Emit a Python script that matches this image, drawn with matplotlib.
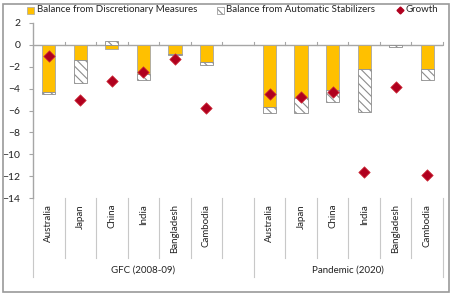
import numpy as np
import matplotlib.pyplot as plt
from matplotlib.patches import Rectangle
from matplotlib.lines import Line2D

# data
countries = ['Australia', 'Japan', 'China', 'India', 'Bangladesh', 'Cambodia']
groups = ['GFC (2008-09)', 'Pandemic (2020)']

gfc_disc = [-4.3, -1.4, -0.4, -2.7, -0.8, -1.6]
gfc_auto = [-0.2, -2.05, 0.4, -0.55, -0.1, -0.25]
gfc_growth = [-1.0, -5.0, -3.3, -2.45, -1.3, -5.8]

pan_disc = [-5.7, -4.9, -4.15, -2.25, 0.0, -2.25]
pan_auto = [-0.55, -1.3, -1.05, -3.85, -0.2, -0.95]
pan_growth = [-4.5, -4.8, -4.3, -11.6, -3.85, -11.9]

legend_labels = ['Balance from Discretionary Measures', 'Balance from Automatic Stabilizers', 'Growth']

yellow = '#FFC000'
red = '#B0001E'
grey = '#A6A6A6'
txt = '#222222'
fs = 7
plt.rcParams['hatch.color'] = '#8C8C8C'
plt.rcParams['hatch.linewidth'] = 0.8
plt.rcParams['font.family'] = ['Lato', 'DejaVu Sans']

fig = plt.figure(figsize=(4.52, 2.95), dpi=100)
ax = fig.add_axes([33/452, 1-198/295, 410/452, 175/295])

# slots: 6 countries, a blank, 6 countries
x_gfc = np.arange(6) + 0.5
x_pan = np.arange(6) + 7.5
w = 0.42

def stack(xs, disc, auto):
    disc = np.array(disc)
    auto = np.array(auto)
    ax.bar(xs, disc, w, color=yellow, edgecolor=grey, linewidth=0.6, zorder=2)
    base = np.where(auto < 0, np.minimum(disc, 0), np.maximum(disc, 0))
    ax.bar(xs, auto, w, bottom=base, color='white', edgecolor='#8C8C8C',
           hatch='\\\\\\\\', linewidth=0.6, zorder=2)

stack(x_gfc, gfc_disc, gfc_auto)
stack(x_pan, pan_disc, pan_auto)
ax.scatter(x_gfc, gfc_growth, marker='D', s=34, color=red, edgecolor='#D0303C', linewidth=0.5, zorder=3)
ax.scatter(x_pan, pan_growth, marker='D', s=34, color=red, edgecolor='#D0303C', linewidth=0.5, zorder=3)

ax.set_xlim(0, 13)
ax.set_ylim(-14, 2)
ax.set_yticks(range(-14, 3, 2))
ax.tick_params(axis='y', labelsize=7.5, length=3, color=grey, pad=6, labelcolor=txt)
for s in ['top', 'right', 'bottom']:
    ax.spines[s].set_visible(False)
ax.spines['left'].set_color(grey)
ax.spines['left'].set_linewidth(1.0)
ax.set_xticks([])

# zero line with small ticks
ax.axhline(0, color=grey, linewidth=1.0, zorder=1)
for xt in range(1, 14):
    ax.plot([xt, xt], [0, 0.25], color=grey, linewidth=0.8, clip_on=False, zorder=1)

# category separators and labels below the axes
trans = ax.get_xaxis_transform()
y_bot = -60/175
y_grp = -79/175
for xt in range(14):
    low = y_grp if xt in (0, 7, 13) else y_bot
    ax.plot([xt, xt], [0, low], color='#C8C8C8', linewidth=0.8, transform=trans, clip_on=False)
for xs in (x_gfc, x_pan):
    for xi, name in zip(xs, countries):
        ax.text(xi, -6/175, name, rotation=90, ha='center', va='top', fontsize=fs,
                transform=trans, color=txt)
ax.text(3.5, -72/175, groups[0], ha='center', va='center', fontsize=fs, transform=trans, color=txt)
ax.text(10, -72/175, groups[1], ha='center', va='center', fontsize=fs, transform=trans, color=txt)

# legend, placed by hand
ly = 1 - 10/295
fig.patches.append(Rectangle((27/452, ly - 3.5/295), 7/452, 7/295, transform=fig.transFigure,
                             facecolor=yellow, edgecolor=grey, linewidth=0.5))
fig.text(37/452, ly, legend_labels[0], fontsize=fs, va='center', ha='left', color=txt)
fig.patches.append(Rectangle((217/452, ly - 3.5/295), 7/452, 7/295, transform=fig.transFigure,
                             facecolor='white', edgecolor='#8C8C8C', hatch='\\\\\\\\', linewidth=0.5))
fig.text(226/452, ly, legend_labels[1], fontsize=fs, va='center', ha='left', color=txt)
fig.add_artist(Line2D([400/452], [ly], marker='D', color='none', markerfacecolor=red,
                      markeredgecolor=red, markersize=3.5, transform=fig.transFigure))
fig.text(406/452, ly, legend_labels[2], fontsize=fs, va='center', ha='left', color=txt)

# outer frame
fig.patches.append(Rectangle((3/452, 3/295), 446/452, 288/295, transform=fig.transFigure,
                             fill=False, edgecolor='#9A9A9A', linewidth=1.2))

fig.savefig('out.png', dpi=100)
